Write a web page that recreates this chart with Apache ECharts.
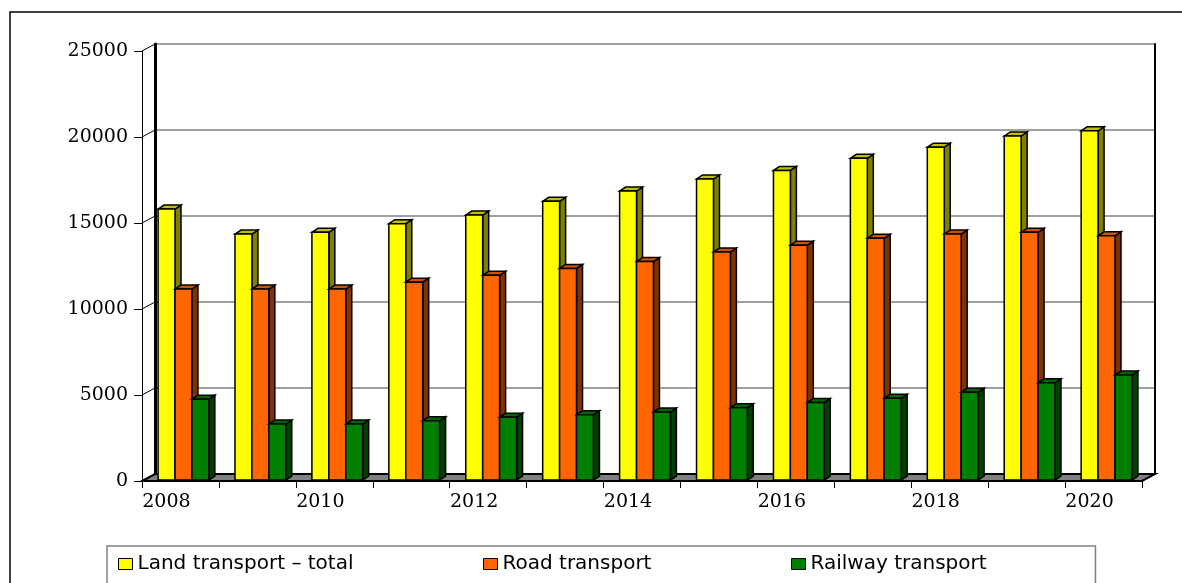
<!DOCTYPE html>
<html>
<head>
<meta charset="utf-8">
<title>Land transport</title>
<script src="https://cdn.jsdelivr.net/npm/echarts@6/dist/echarts.min.js"></script>
<style>
  html, body { margin: 0; padding: 0; background: #fff; overflow: hidden; }
  #chart { width: 1182px; height: 583px; }
</style>
</head>
<body>
<div id="chart"></div>
<script>
const years = ["2008", "2009", "2010", "2011", "2012", "2013", "2014", "2015", "2016", "2017", "2018", "2019", "2020"];
const landTotal = [15750, 14300, 14400, 14900, 15400, 16200, 16800, 17500, 18000, 18700, 19350, 20000, 20300];
const roadTransport = [11100, 11100, 11100, 11500, 11900, 12300, 12700, 13250, 13650, 14050, 14300, 14400, 14200];
const railTransport = [4700, 3250, 3250, 3450, 3650, 3800, 3950, 4200, 4500, 4750, 5100, 5650, 6100];
const yTicks = [0, 5000, 10000, 15000, 20000, 25000];

// wall depth (front axis -> back wall) and bar depth, in px
const WALL_DX = 13, WALL_DY = -7;
const BAR_DX = 6, BAR_DY = -4;
const BAR_SHIFT_X = 3, BAR_SHIFT_Y = -1;

const seriesDefs = [
  { name: "Land transport \u2013 total", data: landTotal, front: "#ffff00", side: "#808000", top: "#bfbf00" },
  { name: "Road transport", data: roadTransport, front: "#ff6600", side: "#803300", top: "#cc5200" },
  { name: "Railway transport", data: railTransport, front: "#008000", side: "#004000", top: "#006600" }
];

// legend item positions (x of each swatch)
const legendLeft = [118, 483, 791];

const outline = { stroke: "#000", lineWidth: 1.5 };

function barRenderer(k, def) {
  return (params, api) => {
    const idx = api.value(0);
    const top = api.coord([idx, api.value(1)]);
    const base = api.coord([idx, 0]);
    const band = api.size([1, 0])[0];
    const w = band * 0.22;
    const x0 = top[0] - 1.5 * w + k * w + BAR_SHIFT_X;
    const y0 = top[1] + BAR_SHIFT_Y;
    const y1 = base[1] + BAR_SHIFT_Y;
    return {
      type: "group",
      children: [
        {
          type: "polygon",
          shape: { points: [[x0 + w, y0], [x0 + w + BAR_DX, y0 + BAR_DY], [x0 + w + BAR_DX, y1 + BAR_DY], [x0 + w, y1]] },
          style: Object.assign({ fill: def.side }, outline)
        },
        {
          type: "polygon",
          shape: { points: [[x0, y0], [x0 + BAR_DX, y0 + BAR_DY], [x0 + w + BAR_DX, y0 + BAR_DY], [x0 + w, y0]] },
          style: Object.assign({ fill: def.top }, outline)
        },
        {
          type: "rect",
          shape: { x: x0, y: y0, width: w, height: y1 - y0 },
          style: Object.assign({ fill: def.front }, outline)
        }
      ]
    };
  };
}

const chart = echarts.init(document.getElementById("chart"), null, { renderer: "canvas" });

const legendText = { fontFamily: "DejaVu Sans", fontSize: 20, color: "#000" };

const legends = seriesDefs.map((d, i) => ({
  left: i === 0 ? 107 : legendLeft[i],
  top: 546,
  orient: "horizontal",
  itemWidth: 14,
  itemHeight: 11,
  padding: i === 0 ? [8, 742, 20, legendLeft[0] - 107] : [8, 0, 20, 0],
  borderColor: i === 0 ? "#808080" : "transparent",
  borderWidth: i === 0 ? 1.5 : 0,
  textStyle: legendText,
  data: [{ name: d.name, icon: "rect", itemStyle: { color: d.front, borderColor: "#000", borderWidth: 1 } }]
}));

const option = {
  animation: false,
  backgroundColor: "#fff",
  graphic: [
    {
      // outer frame: only its top and left edges fall inside the picture
      type: "polyline",
      shape: { points: [[10, 800], [10, 12], [1182, 12]] },
      style: { fill: "none", stroke: "#000", lineWidth: 1.5 },
      silent: true
    }
  ],
  legend: legends,
  grid: [
    { left: 142, top: 51, width: 1000, height: 430 },
    { left: 155, top: 44, width: 1000, height: 430 }
  ],
  xAxis: [
    {
      type: "category",
      gridIndex: 0,
      data: years,
      boundaryGap: true,
      axisLine: { lineStyle: { color: "#000", width: 1.5 } },
      axisTick: { show: true, interval: 0, length: 7, lineStyle: { color: "#000" } },
      axisLabel: {
        interval: 1,
        margin: 12,
        padding: [0, 28, 0, 0],
        fontFamily: "DejaVu Serif",
        fontSize: 19,
        color: "#000"
      },
      splitLine: { show: false }
    },
    {
      type: "category",
      gridIndex: 1,
      data: years,
      show: false
    }
  ],
  yAxis: [
    {
      type: "value",
      gridIndex: 0,
      min: 0,
      max: 25000,
      interval: 5000,
      axisLine: { show: true, lineStyle: { color: "#000", width: 1 } },
      axisTick: { show: true, length: 8, lineStyle: { color: "#000" } },
      axisLabel: {
        margin: 14,
        fontFamily: "DejaVu Serif",
        fontSize: 19,
        color: "#000",
        formatter: (v) => String(v)
      },
      splitLine: { show: false }
    },
    {
      type: "value",
      gridIndex: 1,
      min: 0,
      max: 25000,
      interval: 5000,
      axisLine: { show: true, lineStyle: { color: "#000", width: 3 } },
      axisTick: { show: false },
      axisLabel: { show: false },
      splitLine: { show: true, lineStyle: { color: "#808080", width: 1.5 } }
    },
    {
      type: "value",
      gridIndex: 1,
      position: "right",
      min: 0,
      max: 25000,
      axisLine: { show: true, lineStyle: { color: "#000", width: 2 } },
      axisTick: { show: false },
      axisLabel: { show: false },
      splitLine: { show: false }
    }
  ],
  series: [
    {
      // floor of the plot
      type: "custom",
      name: "floor",
      xAxisIndex: 0,
      yAxisIndex: 0,
      z: 1,
      silent: true,
      data: [[0, 0]],
      renderItem: (params) => {
        const cs = params.coordSys;
        const yb = cs.y + cs.height;
        return {
          type: "polygon",
          shape: {
            points: [
              [cs.x, yb],
              [cs.x + cs.width, yb],
              [cs.x + cs.width + WALL_DX, yb + WALL_DY],
              [cs.x + WALL_DX, yb + WALL_DY]
            ]
          },
          style: { fill: "#808080", stroke: "#000", lineWidth: 2 }
        };
      }
    },
    {
      // slanted links from front axis ticks to back wall gridlines
      type: "custom",
      name: "links",
      xAxisIndex: 0,
      yAxisIndex: 0,
      z: 1,
      silent: true,
      data: yTicks.map((v) => [0, v]),
      renderItem: (params, api) => {
        const cs = params.coordSys;
        const y = api.coord([0, api.value(1)])[1];
        return {
          type: "line",
          shape: { x1: cs.x, y1: y, x2: cs.x + WALL_DX, y2: y + WALL_DY },
          style: { stroke: "#000", lineWidth: 1 }
        };
      }
    }
  ].concat(
    seriesDefs.map((d, k) => ({
      type: "custom",
      name: d.name,
      xAxisIndex: 0,
      yAxisIndex: 0,
      z: 3,
      itemStyle: { color: d.front },
      data: d.data.map((v, i) => [i, v]),
      renderItem: barRenderer(k, d)
    }))
  )
};

chart.setOption(option);
</script>
</body>
</html>
